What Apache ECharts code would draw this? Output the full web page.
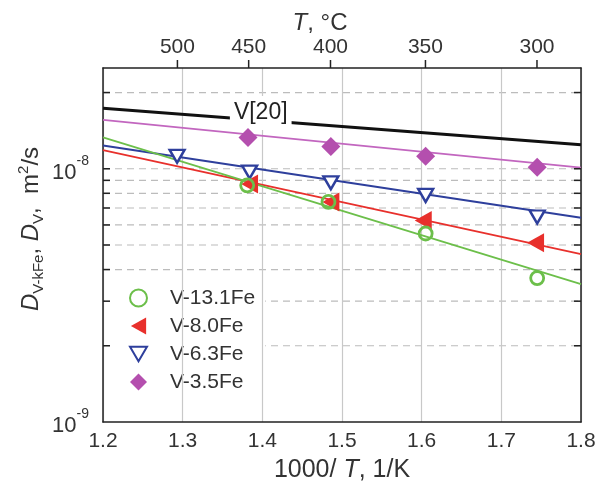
<!DOCTYPE html>
<html><head><meta charset="utf-8">
<script src="https://cdn.jsdelivr.net/npm/echarts@6/dist/echarts.min.js"></script>
<style>html,body{margin:0;padding:0;background:#fff}#c{width:600px;height:492px}</style>
</head><body><div id="c"></div>
<script>
// ---- axes ----
const X_MIN = 1.2, X_MAX = 1.8, X_STEP = 0.1;
const Y_MIN = 1e-9, Y_MAX = 2.5e-8;
const tempTicksC = [500, 450, 400, 350, 300];
const yGridValues = [2e-9, 3e-9, 4e-9, 5e-9, 6e-9, 7e-9, 8e-9, 9e-9, 1e-8, 2e-8];

// ---- measured points ----
const seriesNames = ['V-13.1Fe', 'V-8.0Fe', 'V-6.3Fe', 'V-3.5Fe'];
const xGreen  = [1.381, 1.483, 1.605, 1.745];
const yGreen  = [8.6e-9, 7.4e-9, 5.55e-9, 3.7e-9];
const xRed    = [1.384, 1.486, 1.602, 1.743];
const yRed    = [8.7e-9, 7.4e-9, 6.25e-9, 5.1e-9];
const xBlue   = [1.293, 1.384, 1.486, 1.605, 1.745];
const yBlue   = [1.12e-8, 9.7e-9, 8.8e-9, 7.85e-9, 6.45e-9];
const xPurple = [1.382, 1.486, 1.605, 1.745];
const yPurple = [1.33e-8, 1.225e-8, 1.12e-8, 1.015e-8];

// ---- fitted lines (values at x = 1.2 and x = 1.8) ----
const fitX = [1.2, 1.8];
const fitV20    = [1.735e-8, 1.245e-8];
const fitPurple = [1.56e-8, 1.01e-8];
const fitBlue   = [1.235e-8, 6.4e-9];
const fitRed    = [1.185e-8, 4.6e-9];
const fitGreen  = [1.33e-8, 3.5e-9];
const v20Label = 'V[20]';
const v20LabelAt = [1.398, 1.66e-8];

const FONT = '"Liberation Sans", Arial, sans-serif';
const C_GREEN = '#6cbf4a', C_RED = '#e8302c', C_BLUE = '#2e3f9c', C_PURPLE = '#b44fae', C_PLINE = '#c266bf';
const ICON_LEFT_TRI = 'path://M0,9.5 L17,0 L17,19 Z';
const ICON_DOWN_TRI = 'path://M0,0 L15,0 L7.5,13 Z';

const zip = (xs, ys) => xs.map((x, i) => [x, ys[i]]);

function renderDash(params, api) {
  const cs = params.coordSys;
  const y = api.coord([X_MIN, api.value(1)])[1];
  return { type: 'line', silent: true,
    shape: { x1: cs.x, y1: y, x2: cs.x + cs.width, y2: y },
    style: { stroke: '#bcbcbc', lineWidth: 1.2, lineDash: [7, 5] } };
}
function renderYTicks(params, api) {
  const cs = params.coordSys;
  const y = api.coord([X_MIN, api.value(1)])[1];
  return { type: 'group', silent: true, children: [
    { type: 'line', shape: { x1: cs.x, y1: y, x2: cs.x + 7, y2: y }, style: { stroke: '#222', lineWidth: 1.5 } },
    { type: 'line', shape: { x1: cs.x + cs.width, y1: y, x2: cs.x + cs.width - 7, y2: y }, style: { stroke: '#222', lineWidth: 1.5 } }
  ] };
}
function renderTop(params, api) {
  const cs = params.coordSys;
  const x = api.coord([api.value(0), Y_MAX])[0];
  return { type: 'group', silent: true, children: [
    { type: 'line', shape: { x1: x, y1: cs.y, x2: x, y2: cs.y - 8 }, style: { stroke: '#222', lineWidth: 1.5 } },
    { type: 'text', x: x, y: cs.y - 10, style: { text: String(api.value(1)), align: 'center', verticalAlign: 'bottom', font: '21px ' + FONT, fill: '#333' } }
  ] };
}

const chart = echarts.init(document.getElementById('c'), null, { renderer: 'canvas' });
const option = {
  animation: false,
  backgroundColor: '#fff',
  textStyle: { fontFamily: FONT },
  grid: { left: 103, right: 19, top: 68, bottom: 70 },
  xAxis: [{
    type: 'value', min: X_MIN, max: X_MAX, interval: X_STEP, position: 'bottom', z: 3,
    axisLine: { lineStyle: { color: '#222', width: 1.5 } },
    axisTick: { show: false },
    axisLabel: { fontSize: 21, color: '#333', margin: 9, formatter: v => v.toFixed(1) },
    splitLine: { show: true, lineStyle: { color: '#c8c8c8', width: 1.2 } },
    name: '{n|1000/ }{i|T}{n|, 1/K}', nameLocation: 'middle', nameGap: 36,
    nameTextStyle: { rich: { n: { fontSize: 25, color: '#333', fontFamily: FONT }, i: { fontSize: 25, color: '#333', fontStyle: 'italic', fontFamily: FONT } } }
  }, {
    type: 'value', min: X_MIN, max: X_MAX, position: 'top', z: 3,
    axisLine: { onZero: false, lineStyle: { color: '#222', width: 1.5 } },
    axisTick: { show: false }, axisLabel: { show: false }, splitLine: { show: false }
  }],
  yAxis: [{
    type: 'log', min: Y_MIN, max: Y_MAX, logBase: 10, position: 'left', z: 3,
    axisLine: { lineStyle: { color: '#222', width: 1.5 } },
    axisTick: { show: false },
    splitLine: { show: false },
    axisLabel: {
      margin: 14, showMaxLabel: false,
      formatter: v => {
        const e = Math.log10(v);
        if (Math.abs(e - Math.round(e)) > 1e-6) return '';
        return '{b|10}{s|' + Math.round(e) + '}';
      },
      rich: {
        b: { fontSize: 22, color: '#333', lineHeight: 30, verticalAlign: 'bottom', fontFamily: FONT },
        s: { fontSize: 14, color: '#333', lineHeight: 14, verticalAlign: 'top', fontFamily: FONT }
      }
    }
  }, {
    type: 'log', min: Y_MIN, max: Y_MAX, logBase: 10, position: 'right', z: 3,
    axisLine: { onZero: false, lineStyle: { color: '#222', width: 1.5 } },
    axisTick: { show: false }, axisLabel: { show: false }, splitLine: { show: false }
  }],
  legend: {
    orient: 'vertical', left: 105, top: 284, itemGap: 6, z: 2,
    backgroundColor: '#fff', padding: [3, 10, 3, 24],
    itemWidth: 17, itemHeight: 17,
    data: [
      { name: seriesNames[0], icon: 'circle' },
      { name: seriesNames[1], icon: ICON_LEFT_TRI },
      { name: seriesNames[2], icon: ICON_DOWN_TRI },
      { name: seriesNames[3], icon: 'diamond' }
    ],
    textStyle: { fontSize: 21, color: '#333', lineHeight: 22, padding: [0, 0, 0, 18], fontFamily: FONT }
  },
  graphic: [
    { type: 'text', x: 320, y: 23, silent: true,
      style: { text: '{i|T}{n|, °C}', align: 'center', verticalAlign: 'middle',
        rich: { i: { fontSize: 24, fontStyle: 'italic', fill: '#333', fontFamily: FONT }, n: { fontSize: 24, fill: '#333', fontFamily: FONT } } } },
    { type: 'text', x: 31, y: 229, rotation: Math.PI / 2, silent: true,
      style: { text: '{i|D}{sub|V-kFe}{n|, }{i|D}{sub|V}{n|,  m}{sup|2}{n|/s}', align: 'center', verticalAlign: 'middle',
        rich: {
          i: { fontSize: 24, fontStyle: 'italic', fill: '#333', lineHeight: 30, verticalAlign: 'middle', fontFamily: FONT },
          n: { fontSize: 24, fill: '#333', lineHeight: 30, verticalAlign: 'middle', fontFamily: FONT },
          sub: { fontSize: 15, fill: '#333', lineHeight: 15, verticalAlign: 'bottom', fontFamily: FONT },
          sup: { fontSize: 15, fill: '#333', lineHeight: 15, verticalAlign: 'top', fontFamily: FONT }
        } } }
  ],
  series: [
    { type: 'custom', name: 'ygrid', silent: true, z: 1, renderItem: renderDash, data: yGridValues.map(v => [X_MIN, v]) },
    { type: 'custom', name: 'yticks', silent: true, z: 20, renderItem: renderYTicks, data: yGridValues.map(v => [X_MIN, v]) },
    { type: 'custom', name: 'ttop', silent: true, z: 20, renderItem: renderTop, data: tempTicksC.map(t => [1000 / (t + 273.15), t]), encode: { x: 0 } },

    { type: 'line', name: 'V[20]', data: zip(fitX, fitV20), symbol: 'none', silent: true, z: 4,
      lineStyle: { color: '#111', width: 3 },
      markPoint: { symbol: 'circle', symbolSize: 1, itemStyle: { color: 'transparent' }, silent: true,
        label: { show: true, position: 'inside', formatter: v20Label, fontSize: 23, color: '#222', backgroundColor: '#fff', padding: [0, 4, 10, 4], lineHeight: 24, fontFamily: FONT },
        data: [{ coord: v20LabelAt }] } },
    { type: 'line', name: 'fit-purple', data: zip(fitX, fitPurple), symbol: 'none', silent: true, z: 4, lineStyle: { color: C_PLINE, width: 1.8 } },
    { type: 'line', name: 'fit-blue', data: zip(fitX, fitBlue), symbol: 'none', silent: true, z: 4, lineStyle: { color: C_BLUE, width: 2 } },
    { type: 'line', name: 'fit-red', data: zip(fitX, fitRed), symbol: 'none', silent: true, z: 4, lineStyle: { color: C_RED, width: 1.8 } },
    { type: 'line', name: 'fit-green', data: zip(fitX, fitGreen), symbol: 'none', silent: true, z: 4, lineStyle: { color: C_GREEN, width: 1.8 } },

    { type: 'scatter', name: seriesNames[1], data: zip(xRed, yRed), z: 5,
      symbol: 'triangle', symbolSize: [19, 17], symbolRotate: 90,
      itemStyle: { color: C_RED, opacity: 1 } },
    { type: 'scatter', name: seriesNames[0], data: zip(xGreen, yGreen), z: 6,
      symbol: 'circle', symbolSize: 13,
      itemStyle: { color: 'rgba(255,255,255,0)', borderColor: C_GREEN, borderWidth: 2.8, opacity: 1 } },
    { type: 'scatter', name: seriesNames[2], data: zip(xBlue, yBlue), z: 5,
      symbol: 'triangle', symbolSize: [15, 13], symbolRotate: 180,
      itemStyle: { color: '#fff', borderColor: C_BLUE, borderWidth: 2.4, opacity: 1 } },
    { type: 'scatter', name: seriesNames[3], data: zip(xPurple, yPurple), z: 5,
      symbol: 'diamond', symbolSize: [19, 19],
      itemStyle: { color: C_PURPLE, opacity: 1 } }
  ]
};
chart.setOption(option);
</script>
</body></html>
